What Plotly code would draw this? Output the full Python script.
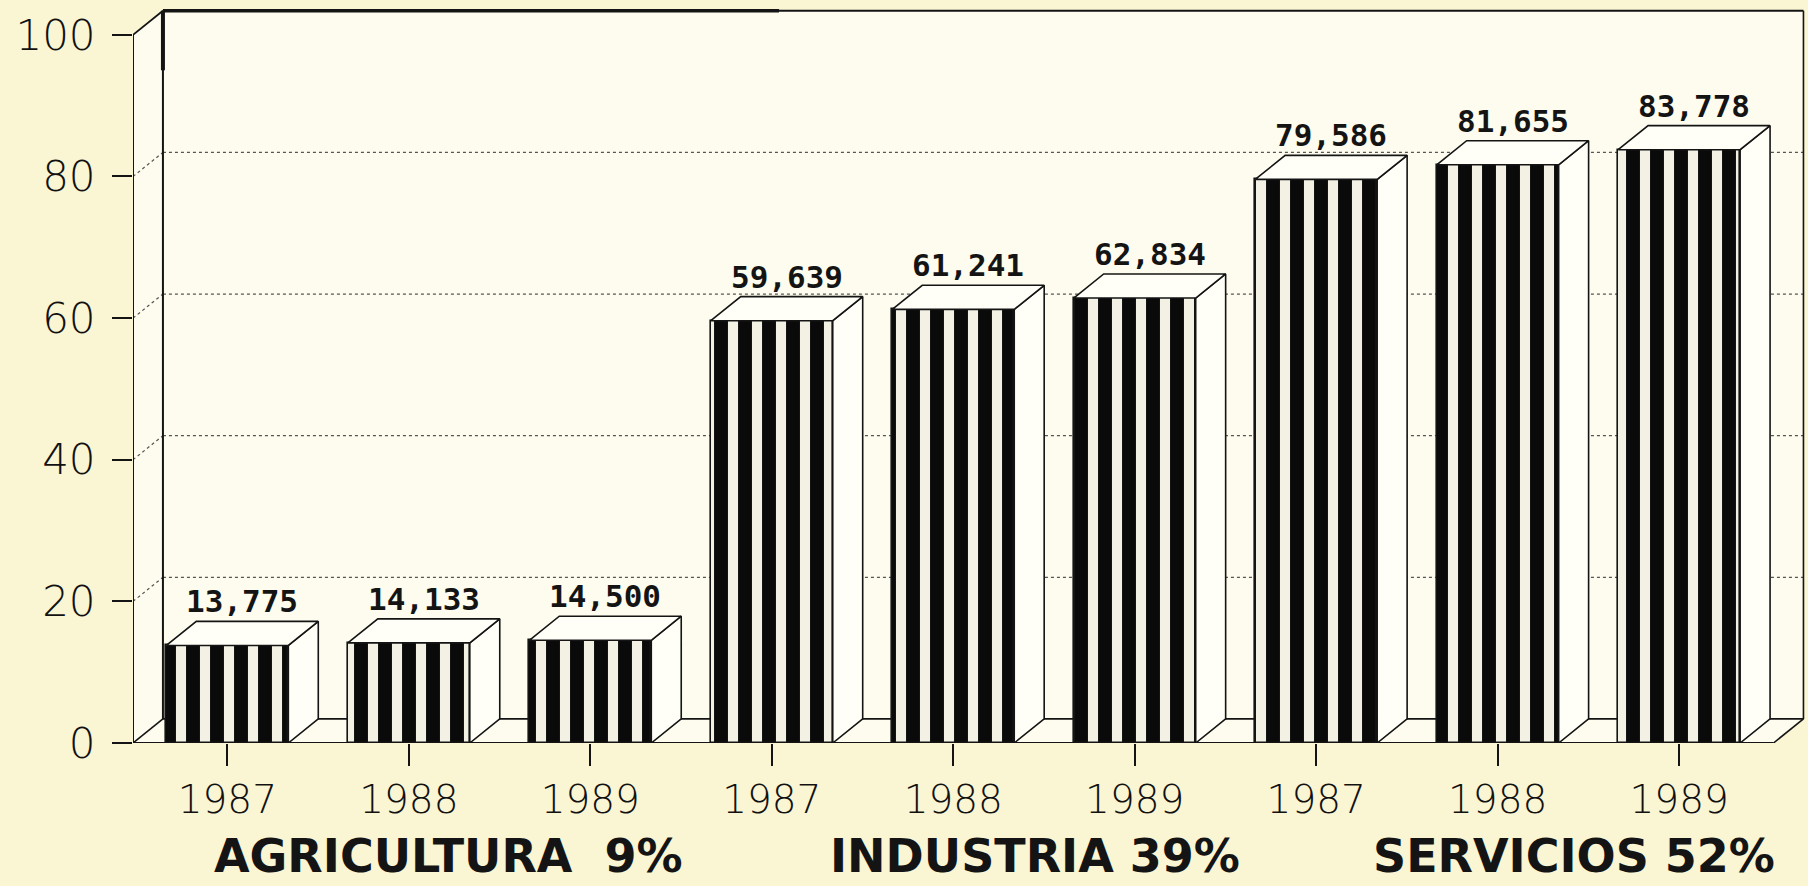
import plotly.graph_objects as go

# Producción por sector (miles), 1987-1989
years = ["1987", "1988", "1989"] * 3
values = [13775, 14133, 14500, 59639, 61241, 62834, 79586, 81655, 83778]
sectors = ["AGRICULTURA  9%", "INDUSTRIA 39%", "SERVICIOS 52%"]
y_ticks = [0, 20, 40, 60, 80, 100]

# geometry of the pseudo-3D box (data units)
X0, X1 = -0.52, 8.52          # front floor extent
DX, DY = 0.165, 3.4           # depth offset of the back plane
BAR_W = 0.672
sector_label_x = [1.22, 4.45, 7.42]

heights = [v / 1000 for v in values]
xs = list(range(len(values)))

ink = "#141414"
face = "#FFFFF7"

fig = go.Figure()

# front faces: striped bars
fig.add_trace(go.Bar(
    x=xs, y=heights, width=BAR_W,
    marker=dict(
        color="#F3F1E4",
        line=dict(color=ink, width=1.6),
        pattern=dict(shape="|", fgcolor="#0A0A0A", bgcolor="#F3F1E4",
                     fgopacity=1, size=24, solidity=0.58),
    ),
    hoverinfo="skip", showlegend=False,
))

# side and top faces of each bar
for x, h in zip(xs, heights):
    xl, xr = x - BAR_W / 2, x + BAR_W / 2
    fig.add_trace(go.Scatter(
        x=[xr, xr + DX, xr + DX, xr, xr],
        y=[0, DY, h + DY, h, 0],
        mode="lines", fill="toself", fillcolor=face,
        line=dict(color=ink, width=1.6),
        hoverinfo="skip", showlegend=False,
    ))
    fig.add_trace(go.Scatter(
        x=[xl, xl + DX, xr + DX, xr, xl],
        y=[h, h + DY, h + DY, h, h],
        mode="lines", fill="toself", fillcolor=face,
        line=dict(color=ink, width=1.6),
        hoverinfo="skip", showlegend=False,
    ))

shapes = []
# back wall / floor fill
shapes.append(dict(type="path", layer="below",
                   path=f"M {X0},0 L {X0},100 L {X0+DX},{100+DY} L {X1+DX},{100+DY} "
                        f"L {X1+DX},{DY} L {X1},0 Z",
                   fillcolor="#FDFCEE", line=dict(width=0)))
# dotted gridlines on the back wall and the side wall
for v in y_ticks[1:-1]:
    shapes.append(dict(type="line", layer="below", x0=X0 + DX, y0=v + DY, x1=X1 + DX, y1=v + DY,
                       line=dict(color="#555", width=1.2, dash="dot")))
    shapes.append(dict(type="line", layer="below", x0=X0, y0=v, x1=X0 + DX, y1=v + DY,
                       line=dict(color="#555", width=1.2, dash="dot")))
# top frame (heavier on its left part)
shapes.append(dict(type="line", layer="below", x0=X0, y0=100, x1=X0 + DX, y1=100 + DY,
                   line=dict(color=ink, width=1.8)))
shapes.append(dict(type="line", layer="below", x0=X0 + DX, y0=100 + DY, x1=X1 + DX, y1=100 + DY,
                   line=dict(color=ink, width=2)))
shapes.append(dict(type="line", layer="below", x0=X0 + DX, y0=100 + DY, x1=3.04, y1=100 + DY,
                   line=dict(color=ink, width=3.5)))
# back wall edges
shapes.append(dict(type="line", layer="below", x0=X0 + DX, y0=DY, x1=X0 + DX, y1=100 + DY,
                   line=dict(color=ink, width=2)))
shapes.append(dict(type="line", layer="below", x0=X0 + DX, y0=95, x1=X0 + DX, y1=100 + DY,
                   line=dict(color=ink, width=4)))
shapes.append(dict(type="line", layer="below", x0=X1 + DX, y0=DY, x1=X1 + DX, y1=100 + DY,
                   line=dict(color=ink, width=1.6)))
# front vertical axis
shapes.append(dict(type="line", layer="below", x0=X0, y0=0, x1=X0, y1=100,
                   line=dict(color=ink, width=2)))
# floor
shapes.append(dict(type="line", layer="below", x0=X0 + DX, y0=DY, x1=X1 + DX, y1=DY,
                   line=dict(color=ink, width=1.6)))
shapes.append(dict(type="line", layer="below", x0=X0, y0=0, x1=X0 + DX, y1=DY,
                   line=dict(color=ink, width=1.6)))
shapes.append(dict(type="line", layer="below", x0=X1, y0=0, x1=X1 + DX, y1=DY,
                   line=dict(color=ink, width=1.6)))
shapes.append(dict(type="line", layer="below", x0=X0, y0=0, x1=X1, y1=0,
                   line=dict(color=ink, width=2.2)))

annotations = []
for x, h, v in zip(xs, heights, values):
    annotations.append(dict(
        x=x + DX / 2, y=h + DY, text=f"{v:,}", showarrow=False,
        yanchor="middle", yshift=20,
        font=dict(family="DejaVu Sans Mono", size=31, color=ink, weight="bold"),
    ))
for lx, name in zip(sector_label_x, sectors):
    annotations.append(dict(
        x=lx, xref="x", y=-0.1925, yref="paper", text=name, showarrow=False,
        yanchor="bottom",
        font=dict(family="DejaVu Sans", size=46, color=ink, weight="bold"),
    ))

fig.update_layout(
    width=1808, height=886,
    margin=dict(l=133, r=0, t=3, b=143),
    paper_bgcolor="#FAF5D3",
    plot_bgcolor="rgba(0,0,0,0)",
    bargap=0,
    hovermode=False,
    showlegend=False,
    shapes=shapes,
    annotations=annotations,
    xaxis=dict(
        range=[X0, 8.71], showgrid=False, zeroline=False, showline=False,
        tickmode="array", tickvals=xs, ticktext=years,
        ticks="outside", ticklen=22, tickwidth=1.6, tickcolor=ink,
        ticklabelstandoff=0,
        tickfont=dict(family="DejaVu Sans", size=39, color="#111", weight=200),
    ),
    yaxis=dict(
        range=[0, 104.5], showgrid=False, zeroline=False, showline=False,
        tickmode="array", tickvals=y_ticks,
        ticks="outside", ticklen=20, tickwidth=1.8, tickcolor=ink,
        ticklabelstandoff=8,
        tickfont=dict(family="DejaVu Sans", size=42, color="#111", weight=200),
    ),
)

fig.write_html("out.html")
